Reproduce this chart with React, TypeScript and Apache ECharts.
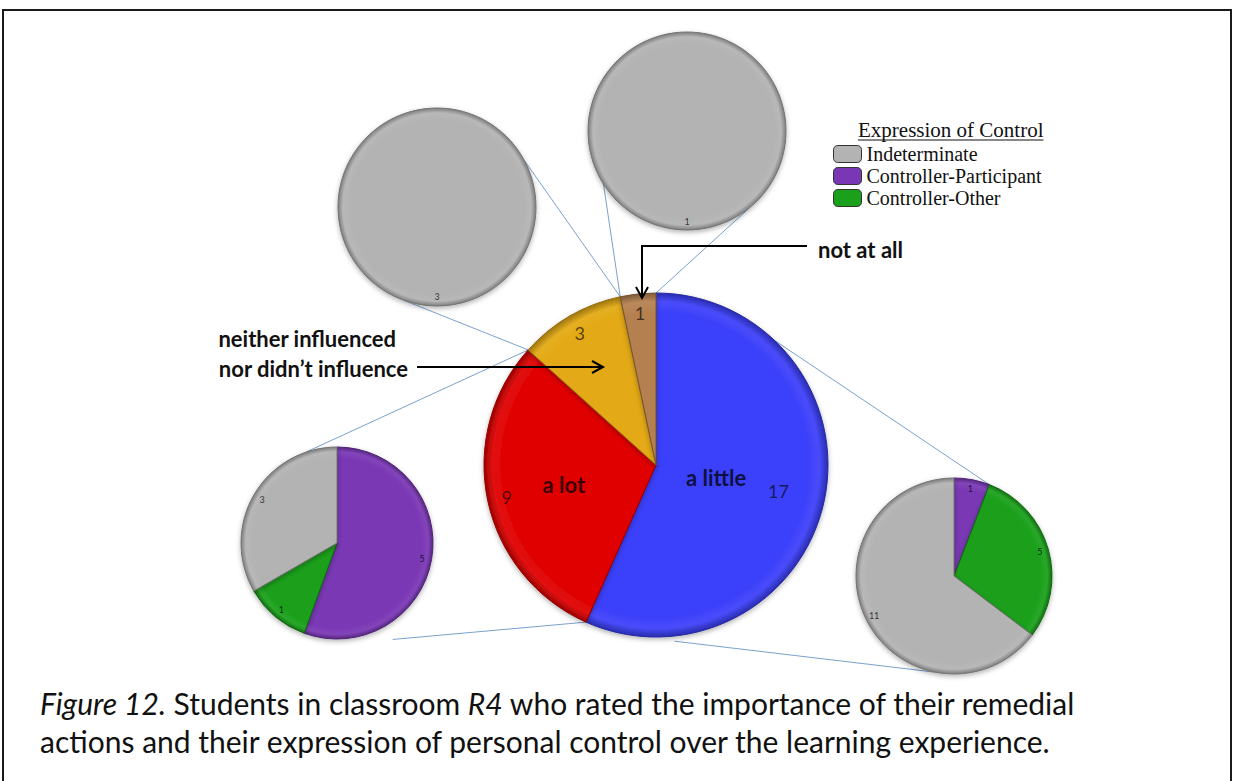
import React, { useEffect, useRef } from 'react';
import * as echarts from 'echarts';

// ---------------- data ----------------
const mainCategories = ['a little', 'a lot', 'neither influenced nor didn’t influence', 'not at all'];
const mainValues = [17, 9, 3, 1];
const mainColors = ['#3b3ffa', '#e00000', '#e3a912', '#b5804f'];

// order of slices (clockwise from the top) in every breakdown pie
const controlTypes = ['Controller-Participant', 'Controller-Other', 'Indeterminate'];
const aLittleValues = [1, 5, 11];
const aLotValues = [5, 1, 3];
const neitherValues = [0, 0, 3];
const notAtAllValues = [0, 0, 1];

const legendTitle = 'Expression of Control';
const legendNames = ['Indeterminate', 'Controller-Participant', 'Controller-Other'];
const controlColors: Record<string, string> = {
  Indeterminate: '#b3b3b3',
  'Controller-Participant': '#7a37b5',
  'Controller-Other': '#1aa01a',
};

const captionLine1 = ['Figure 12.', ' Students in classroom ', 'R4', ' who rated the importance of their remedial'];
const captionLine2 = 'actions and their expression of personal control over the learning experience.';
const annotNotAtAll = 'not at all';
const annotNeither = ['neither influenced', 'nor didn’t influence'];

// ---------------- layout ----------------
type Geo = { cx: number; cy: number; r: number };
const MAIN: Geo = { cx: 656, cy: 465, r: 172 };
const LEFT: Geo = { cx: 337, cy: 543, r: 96 };
const RIGHT: Geo = { cx: 954, cy: 576, r: 98 };
const TOPL: Geo = { cx: 437, cy: 207, r: 99 };
const TOPR: Geo = { cx: 687, cy: 131, r: 99 };

const LATO = 'Lato, "Open Sans", sans-serif';
const SERIF = '"Liberation Serif", "Times New Roman", serif';
const LEGEND_TITLE_FONT = `21px ${SERIF}`;

function measure(text: string, font: string) {
  try {
    const ctx = document.createElement('canvas').getContext('2d');
    if (ctx) {
      ctx.font = font;
      return ctx.measureText(text).width;
    }
  } catch (e) {
    /* ignore */
  }
  return text.length * 9;
}

function hexToRgb(h: string) {
  const n = parseInt(h.slice(1), 16);
  return [(n >> 16) & 255, (n >> 8) & 255, n & 255];
}
function mix(h: string, target: number, t: number) {
  const [r, g, b] = hexToRgb(h);
  const f = (c: number) => Math.round(c + (target - c) * t);
  return `rgb(${f(r)},${f(g)},${f(b)})`;
}
const lighten = (h: string, t: number) => mix(h, 255, t);
const darken = (h: string, t: number) => mix(h, 0, t);

function bevel(base: string, g: Geo) {
  return {
    type: 'radial',
    x: g.cx,
    y: g.cy,
    r: g.r,
    global: true,
    colorStops: [
      { offset: 0, color: base },
      { offset: 0.88, color: base },
      { offset: 0.95, color: lighten(base, 0.07) },
      { offset: 1, color: darken(base, 0.3) },
    ],
  };
}

function cumAngle(values: number[], k: number) {
  const total = values.reduce((a, b) => a + b, 0);
  let s = 0;
  for (let i = 0; i < k; i++) s += values[i];
  return (360 * s) / total;
}
function pt(g: Geo, angleDeg: number, f = 1): [number, number] {
  const a = (angleDeg * Math.PI) / 180;
  return [g.cx + g.r * f * Math.sin(a), g.cy - g.r * f * Math.cos(a)];
}

function pieSeries(id: string, g: Geo, names: string[], values: number[], colors: string[]) {
  const data = names
    .map((n, i) => ({
      name: n,
      value: values[i],
      itemStyle: {
        color: bevel(colors[i], g),
        borderColor: darken(colors[i], 0.35),
        borderWidth: 1,
        shadowBlur: 5,
        shadowColor: 'rgba(0,0,0,0.3)',
        shadowOffsetY: 2,
      },
    }))
    .filter((d) => d.value > 0);
  return {
    type: 'pie',
    id,
    center: [g.cx, g.cy],
    radius: [0, g.r],
    startAngle: 90,
    clockwise: true,
    avoidLabelOverlap: false,
    silent: true,
    z: 2,
    label: { show: false },
    labelLine: { show: false },
    emphasis: { disabled: true },
    data,
  };
}

function labelRing(
  id: string,
  g: Geo,
  names: string[],
  values: number[],
  ratio: number,
  show: number[] | null,
  label: any
) {
  const radius = ratio <= 0.5 ? [0, 2 * ratio * g.r] : [(2 * ratio - 1) * g.r, g.r];
  const data = names
    .map((n, i) => ({
      name: n,
      value: values[i],
      label: { show: show ? show.includes(i) : true },
    }))
    .filter((d) => d.value > 0);
  return {
    type: 'pie',
    id,
    center: [g.cx, g.cy],
    radius,
    startAngle: 90,
    clockwise: true,
    avoidLabelOverlap: false,
    silent: true,
    z: 5,
    itemStyle: { color: 'rgba(0,0,0,0)', borderWidth: 0 },
    label: { position: 'inside', ...label },
    labelLine: { show: false },
    emphasis: { disabled: true },
    data,
  };
}

const ctrlColorList = controlTypes.map((c) => controlColors[c]);
const numLabelMain = { formatter: '{c}', fontFamily: LATO, fontSize: 18, color: 'rgba(0,0,0,0.65)' };
const numLabelSmall = { formatter: '{c}', fontFamily: LATO, fontSize: 9, color: 'rgba(0,0,0,0.75)' };
const catLabel = { formatter: '{b}', fontFamily: LATO, fontWeight: 'bold', fontSize: 22, color: 'rgba(0,0,0,0.75)' };

// connectors: [from pie, angle, factor] -> [main pie angle, factor]
const connectors: [Geo, number, number, number, number][] = [
  [TOPL, 62, 1, cumAngle(mainValues, 3), 1],
  [TOPL, 200, 1, cumAngle(mainValues, 2), 1],
  [TOPR, 285.5, 1, cumAngle(mainValues, 3), 1],
  [TOPR, 140.3, 1, cumAngle(mainValues, 0), 1],
  [LEFT, 341, 1, cumAngle(mainValues, 2), 1],
  [LEFT, 150, 1.16, cumAngle(mainValues, 1), 1],
  [RIGHT, cumAngle(aLittleValues, 1), 1, 43.6, 1],
  [RIGHT, 191, 1, 174, 1.03],
];

function buildOption() {
  const lines = connectors.map(([g, a, f, ma, mf]) => {
    const [x1, y1] = pt(g, a, f);
    const [x2, y2] = pt(MAIN, ma, mf);
    return {
      type: 'line',
      z: 1,
      silent: true,
      shape: { x1, y1, x2, y2 },
      style: { stroke: '#7aa2cc', lineWidth: 1 },
    };
  });

  const titleW = measure(legendTitle, LEGEND_TITLE_FONT);
  const arrowStyle = { stroke: '#000', lineWidth: 2, fill: 'none' };
  const annotFont = `bold 22px ${LATO}`;
  const graphics: any[] = [
    {
      type: 'rect',
      z: 100,
      silent: true,
      shape: { x: 3, y: 10, width: 1228, height: 800 },
      style: { fill: 'none', stroke: '#1a1a1a', lineWidth: 2 },
    },
    ...lines,
    // legend title
    {
      type: 'text',
      z: 100,
      x: 858,
      y: 130,
      style: { text: legendTitle, font: LEGEND_TITLE_FONT, fill: '#111', verticalAlign: 'middle' },
    },
    {
      type: 'line',
      z: 100,
      shape: { x1: 858, y1: 140, x2: 858 + titleW, y2: 140 },
      style: { stroke: '#111', lineWidth: 1 },
    },
    // annotation: not at all
    {
      type: 'text',
      z: 100,
      x: 818,
      y: 249,
      style: { text: annotNotAtAll, font: annotFont, fill: '#111', verticalAlign: 'middle' },
    },
    { type: 'polyline', z: 100, shape: { points: [[807, 246], [642, 246], [642, 297]] }, style: arrowStyle },
    { type: 'polyline', z: 100, shape: { points: [[636, 287], [642, 298], [648, 287]] }, style: arrowStyle },
    // annotation: neither
    {
      type: 'text',
      z: 100,
      x: 408 - measure(annotNeither[1], annotFont),
      y: 338,
      style: { text: annotNeither[0], font: annotFont, fill: '#111', verticalAlign: 'middle' },
    },
    {
      type: 'text',
      z: 100,
      x: 408,
      y: 368,
      style: { text: annotNeither[1], font: annotFont, fill: '#111', verticalAlign: 'middle', align: 'right' },
    },
    { type: 'polyline', z: 100, shape: { points: [[417, 367], [602, 367]] }, style: arrowStyle },
    { type: 'polyline', z: 100, shape: { points: [[592, 361], [603, 367], [592, 373]] }, style: arrowStyle },
    // caption
    {
      type: 'text',
      z: 100,
      x: 40,
      y: 703,
      style: {
        text: `{it|${captionLine1[0]}}{n|${captionLine1[1]}}{it|${captionLine1[2]}}{n|${captionLine1[3]}}`,
        verticalAlign: 'middle',
        rich: {
          it: { fontFamily: LATO, fontSize: 30, fontStyle: 'italic', fill: '#111' },
          n: { fontFamily: LATO, fontSize: 30, fill: '#111' },
        },
      },
    },
    {
      type: 'text',
      z: 100,
      x: 40,
      y: 741,
      style: { text: captionLine2, font: `30px ${LATO}`, fill: '#111', verticalAlign: 'middle' },
    },
  ];

  return {
    animation: false,
    backgroundColor: '#ffffff',
    legend: {
      orient: 'vertical',
      left: 833,
      top: 144,
      padding: 0,
      itemWidth: 28,
      itemHeight: 17,
      itemGap: 2,
      icon: 'roundRect',
      selectedMode: false,
      textStyle: { fontFamily: SERIF, fontSize: 20, lineHeight: 17, color: '#111' },
      data: legendNames.map((n) => ({
        name: n,
        itemStyle: { color: controlColors[n], borderColor: '#333', borderWidth: 1 },
      })),
    },
    graphic: { elements: graphics },
    series: [
      pieSeries('main', MAIN, mainCategories, mainValues, mainColors),
      pieSeries('aLittle', RIGHT, controlTypes, aLittleValues, ctrlColorList),
      pieSeries('aLot', LEFT, controlTypes, aLotValues, ctrlColorList),
      pieSeries('neither', TOPL, controlTypes, neitherValues, ctrlColorList),
      pieSeries('notAtAll', TOPR, controlTypes, notAtAllValues, ctrlColorList),
      labelRing('mainNum', MAIN, mainCategories, mainValues, 0.87, [1, 2, 3], numLabelMain),
      labelRing('mainNum17', MAIN, mainCategories, mainValues, 0.71, [0], numLabelMain),
      labelRing('mainCatLittle', MAIN, mainCategories, mainValues, 0.34, [0], catLabel),
      labelRing('mainCatLot', MAIN, mainCategories, mainValues, 0.53, [1], catLabel),
      labelRing('aLittleNum', RIGHT, controlTypes, aLittleValues, 0.88, null, numLabelSmall),
      labelRing('aLotNum', LEFT, controlTypes, aLotValues, 0.87, null, numLabelSmall),
      labelRing('neitherNum', TOPL, controlTypes, neitherValues, 0.87, null, numLabelSmall),
      labelRing('notAtAllNum', TOPR, controlTypes, notAtAllValues, 0.88, null, numLabelSmall),
    ],
  };
}

export default function App() {
  const ref = useRef<HTMLDivElement>(null);
  useEffect(() => {
    if (!ref.current) return;
    const chart = echarts.init(ref.current, null, { renderer: 'svg' });
    chart.setOption(buildOption() as any);
    return () => chart.dispose();
  }, []);
  return (
    <div
      ref={ref}
      style={{ position: 'fixed', left: 0, top: 0, width: 1235, height: 781, background: '#fff' }}
    />
  );
}
